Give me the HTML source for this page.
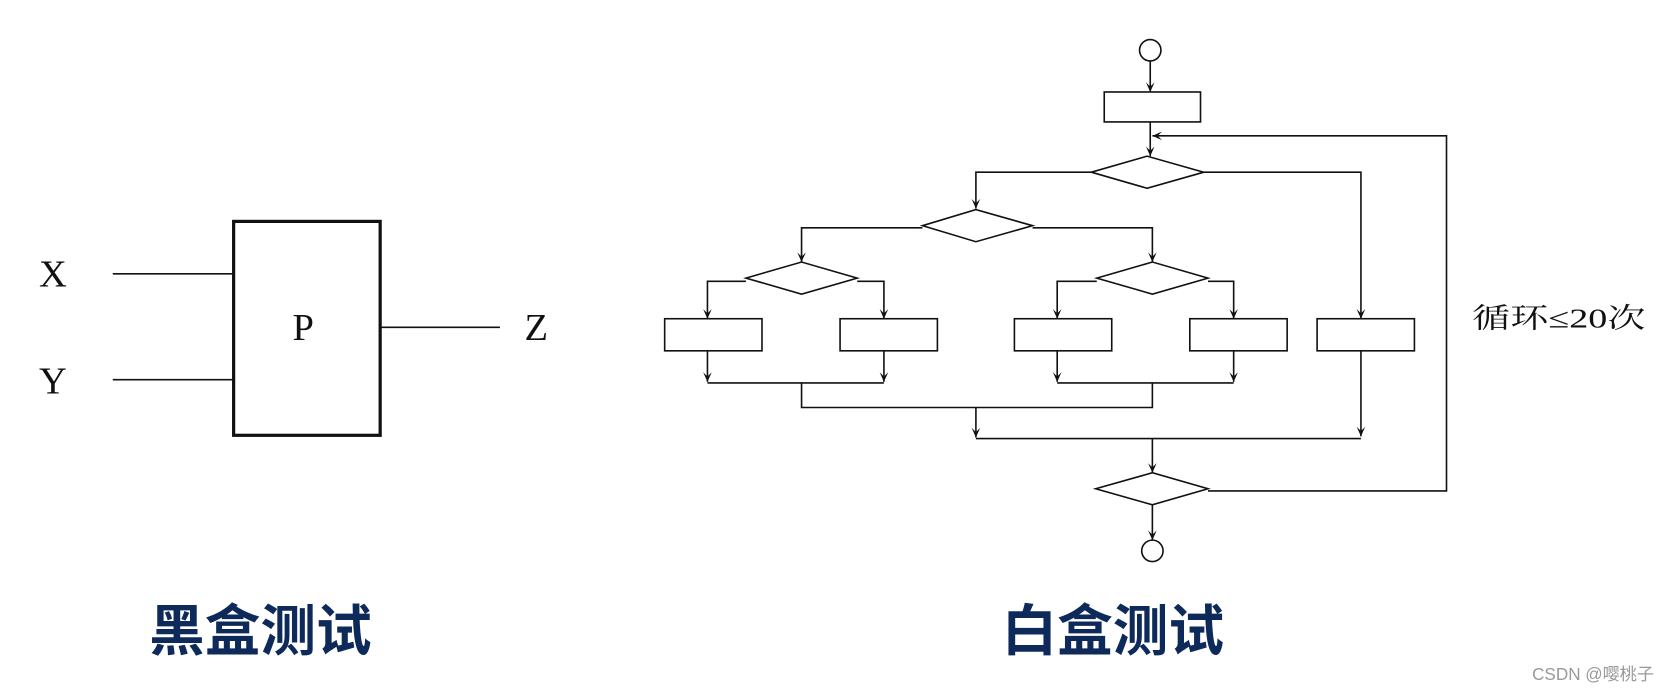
<!DOCTYPE html>
<html><head><meta charset="utf-8"><style>html,body{margin:0;padding:0;background:#fff}svg{display:block}</style></head>
<body>
<svg width="1678" height="692" viewBox="0 0 1568 647" xmlns="http://www.w3.org/2000/svg">
<defs><marker id="a" markerWidth="10" markerHeight="10" refX="9" refY="5" orient="auto" markerUnits="userSpaceOnUse"><path d="M0,1 L9,5 L0,9 L4,5 Z" fill="#111"/></marker></defs>
<g fill="none" stroke="#111" stroke-width="1.5">
<rect x="218" y="207" width="137" height="200" stroke-width="3"/>
<line x1="105" y1="256" x2="218" y2="256"/><line x1="105" y1="355" x2="218" y2="355"/><line x1="355" y1="306" x2="467" y2="306"/>
<circle cx="1075" cy="47" r="10"/>
<line x1="1075" y1="57" x2="1075" y2="86" marker-end="url(#a)"/>
<rect x="1032" y="86" width="90" height="28"/>
<line x1="1075" y1="114" x2="1075" y2="146" marker-end="url(#a)"/>
<polygon points="1020,161 1072,146 1125,161 1072,176"/>
<path d="M1020,161 H912 V195" marker-end="url(#a)"/>
<path d="M1125,161 H1272 V298" marker-end="url(#a)"/>
<rect x="1231" y="298" width="91" height="30"/>
<polygon points="862,211 912,196 965,211 912,226"/>
<path d="M862,213 H749 V245" marker-end="url(#a)"/>
<path d="M965,213 H1077 V245" marker-end="url(#a)"/>
<polygon points="697,260 749,245 801,260 749,275"/>
<polygon points="1025,260 1077,245 1129,260 1077,275"/>
<path d="M697,263 H661 V298" marker-end="url(#a)"/>
<path d="M801,263 H826 V298" marker-end="url(#a)"/>
<path d="M1025,263 H988 V298" marker-end="url(#a)"/>
<path d="M1129,263 H1153 V298" marker-end="url(#a)"/>
<rect x="621" y="298" width="91" height="30"/><rect x="785" y="298" width="91" height="30"/>
<rect x="948" y="298" width="91" height="30"/><rect x="1112" y="298" width="91" height="30"/>
<line x1="661" y1="328" x2="661" y2="357" marker-end="url(#a)"/>
<line x1="826" y1="328" x2="826" y2="357" marker-end="url(#a)"/>
<line x1="988" y1="328" x2="988" y2="357" marker-end="url(#a)"/>
<line x1="1153" y1="328" x2="1153" y2="357" marker-end="url(#a)"/>
<line x1="661" y1="358" x2="826" y2="358"/><line x1="988" y1="358" x2="1153" y2="358"/>
<path d="M749,358 V381 H1077 V358"/>
<line x1="912" y1="381" x2="912" y2="409" marker-end="url(#a)"/>
<line x1="1272" y1="328" x2="1272" y2="408" marker-end="url(#a)"/>
<line x1="912" y1="410" x2="1272" y2="410"/>
<line x1="1077" y1="410" x2="1077" y2="442" marker-end="url(#a)"/>
<polygon points="1024,457 1077,442 1129,457 1077,472"/>
<path d="M1129,459 H1352 V127 H1077" marker-end="url(#a)"/>
<line x1="1077" y1="472" x2="1077" y2="505" marker-end="url(#a)"/>
<circle cx="1077" cy="515" r="10"/>
</g>
<g font-family="'Liberation Serif', serif" font-size="36" fill="#111">
<text x="36" y="268">X</text><text x="36" y="368">Y</text><text x="273" y="318">P</text><text x="490" y="318">Z</text>
</g>
<text x="1376" y="306" font-family="'Liberation Serif','Noto Serif CJK SC',serif" font-size="26" fill="#111" textLength="162" lengthAdjust="spacingAndGlyphs">循环≤20次</text>
<g font-family="'Liberation Sans','Noto Sans CJK SC',sans-serif" font-size="52" font-weight="bold" fill="#0d2a5a" text-anchor="middle">
<text x="243" y="608">黑盒测试</text><text x="1040" y="608">白盒测试</text></g>
<text x="1432" y="636" font-family="'Liberation Sans','Noto Sans CJK SC',sans-serif" font-size="16" fill="#999">CSDN @嘤桃子</text>
</svg>
</body></html>
